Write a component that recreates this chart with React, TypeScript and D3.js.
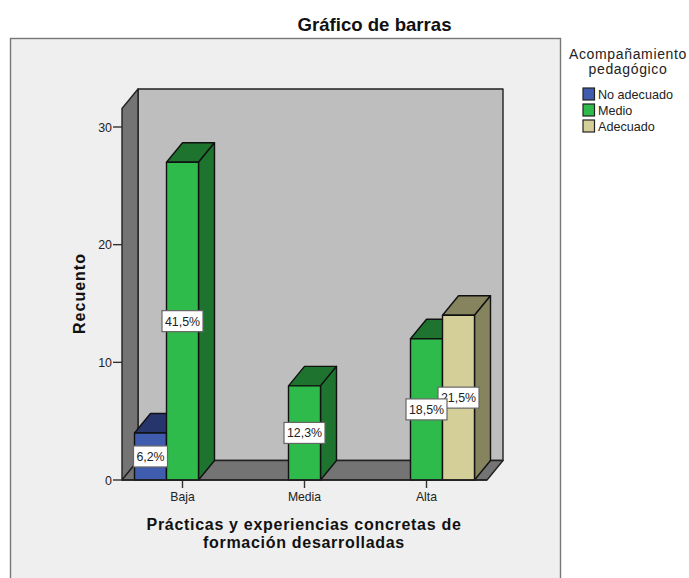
import React from "react";
import * as d3 from "d3";

const categories = ["Baja", "Media", "Alta"];
const seriesNames = ["No adecuado", "Medio", "Adecuado"];
const noAdecuado = [4, 0, 0];
const medio = [27, 8, 12];
const adecuado = [0, 0, 14];
const pctNoAdecuado = ["6,2%", "", ""];
const pctMedio = ["41,5%", "12,3%", "18,5%"];
const pctAdecuado = ["", "", "21,5%"];
const yTicks = [0, 10, 20, 30];
const faceColors = ["#3F5CAF", "#2EBB4B", "#D4CF99"];
const darkColors = ["#26366C", "#1E732E", "#86845F"];
const xTitle = ["Prácticas y experiencias concretas de", "formación desarrolladas"];
const legendTitle = ["Acompañamiento", "pedagógico"];

const W = 689, H = 578;
const DX = 16, DY = -19.5;
const FONT = "'Liberation Sans', Arial, sans-serif";

const y = d3.scaleLinear().domain([0, 30]).range([480, 127]);
const x0 = d3.scaleBand<string>().domain(categories).range([121.5, 487.5]);
const x1 = d3.scaleBand<string>().domain(seriesNames).range([x0.bandwidth() / 2 - 48, x0.bandwidth() / 2 + 48]);

const pts = (p: [number, number][]) => p.map((d) => d.join(",")).join(" ");

const seriesValues = [noAdecuado, medio, adecuado];
const seriesPct = [pctNoAdecuado, pctMedio, pctAdecuado];

const Bar = ({ c, s }: { c: number; s: number }) => {
  const v = seriesValues[s][c];
  if (!v) return null;
  const xl = x0(categories[c])! + x1(seriesNames[s])!;
  const xr = xl + x1.bandwidth();
  const yt = y(v), yb = y(0);
  return (
    <g stroke="#111" strokeWidth={1.4} strokeLinejoin="round">
      <polygon points={pts([[xl, yt], [xl + DX, yt + DY], [xr + DX, yt + DY], [xr, yt]])} fill={darkColors[s]} />
      <polygon points={pts([[xr, yt], [xr + DX, yt + DY], [xr + DX, yb + DY], [xr, yb]])} fill={darkColors[s]} />
      <rect x={xl} y={yt} width={xr - xl} height={yb - yt} fill={faceColors[s]} />
    </g>
  );
};

const Label = ({ c, s }: { c: number; s: number }) => {
  const t = seriesPct[s][c];
  if (!t) return null;
  const cx = x0(categories[c])! + x1(seriesNames[s])! + x1.bandwidth() / 2;
  const cy = y(seriesValues[s][c] / 2);
  const w = t.length === 4 ? 34 : 41;
  return (
    <g>
      <rect x={cx - w / 2} y={cy - 10.5} width={w} height={21} fill="#fff" stroke="#666" strokeWidth={1.2} />
      <text x={cx} y={cy + 4.5} textAnchor="middle" fontSize={12.4} fill="#222">{t}</text>
    </g>
  );
};

export default function App() {
  const yb = y(0), frontTop = 108.5;
  const xl = 122, xr = 487;
  return (
    <svg width={W} height={H} style={{ position: "absolute", left: 0, top: 0 }} fontFamily={FONT}>
      <rect x={0} y={0} width={W} height={H} fill="#fff" />
      <rect x={10.5} y={38.5} width={550} height={H} fill="#EFEFEF" stroke="#777" strokeWidth={1.4} />
      <text x={374.5} y={30.5} textAnchor="middle" fontSize={18.6} fontWeight="bold" fill="#111">Gráfico de barras</text>

      <g stroke="#222" strokeWidth={1.4} strokeLinejoin="round">
        <polygon points={pts([[xl + DX, frontTop + DY], [xr + DX, frontTop + DY], [xr + DX, yb + DY], [xl + DX, yb + DY]])} fill="#BEBEBE" />
        <polygon points={pts([[xl, frontTop], [xl + DX, frontTop + DY], [xl + DX, yb + DY], [xl, yb]])} fill="#747474" />
        <polygon points={pts([[xl, yb], [xl + DX, yb + DY], [xr + DX, yb + DY], [xr, yb]])} fill="#747474" />
      </g>

      {yTicks.map((t) => (
        <g key={t}>
          <line x1={113} x2={xl} y1={y(t)} y2={y(t)} stroke="#333" strokeWidth={1.4} />
          <text x={112} y={y(t) + 4.5} textAnchor="end" fontSize={12.4} fill="#222">{t}</text>
        </g>
      ))}
      {categories.map((c) => {
        const cx = x0(c)! + x0.bandwidth() / 2;
        return (
          <g key={c}>
            <line x1={cx} x2={cx} y1={yb} y2={yb + 8} stroke="#333" strokeWidth={1.4} />
            <text x={cx} y={501} textAnchor="middle" fontSize={12.2} fill="#222">{c}</text>
          </g>
        );
      })}

      {categories.map((_, c) => seriesNames.map((_, s) => <Bar key={`${c}-${s}`} c={c} s={s} />))}
      <line x1={xl} x2={xr} y1={yb} y2={yb} stroke="#222" strokeWidth={1.4} />
      <Label c={0} s={0} />
      <Label c={0} s={1} />
      <Label c={1} s={1} />
      <Label c={2} s={2} />
      <Label c={2} s={1} />

      <text transform="translate(84.5,293.5) rotate(-90)" textAnchor="middle" fontSize={16} fontWeight="bold" letterSpacing={1} fill="#111">Recuento</text>
      {xTitle.map((t, i) => (
        <text key={t} x={304} y={530 + i * 17.5} textAnchor="middle" fontSize={16} fontWeight="bold" letterSpacing={0.7} fill="#111">{t}</text>
      ))}

      {legendTitle.map((t, i) => (
        <text key={t} x={628} y={59 + i * 14.5} textAnchor="middle" fontSize={14} letterSpacing={0.65} fill="#222">{t}</text>
      ))}
      {seriesNames.map((n, i) => (
        <g key={n}>
          <rect x={583} y={88 + i * 16} width={11.5} height={12} fill={faceColors[i]} stroke="#222" strokeWidth={1.2} />
          <text x={598} y={98.5 + i * 16} fontSize={12.6} fill="#222">{n}</text>
        </g>
      ))}
    </svg>
  );
}
